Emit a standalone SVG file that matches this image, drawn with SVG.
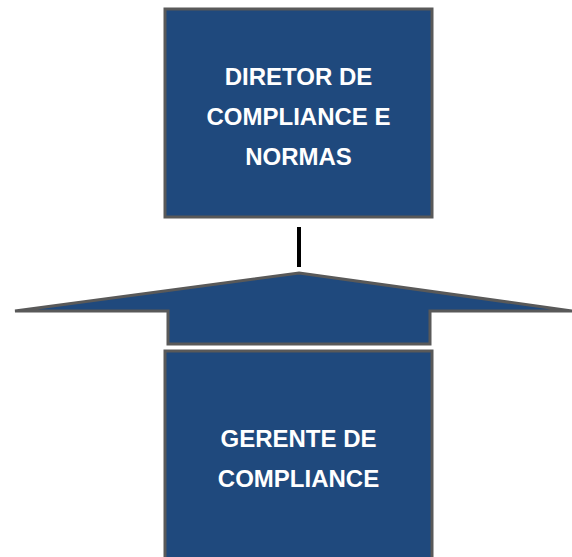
<svg xmlns="http://www.w3.org/2000/svg" width="572" height="557" viewBox="0 0 572 557">
<style>
.box{fill:#1F497D;stroke:#595959;stroke-width:3}
.lbl{font-family:"Liberation Sans",Arial,sans-serif;font-weight:bold;font-size:24px;fill:#FFFFFF;text-anchor:middle}
.conn{stroke:#000000;stroke-width:4;fill:none}
</style>
<rect width="572" height="557" fill="#FFFFFF"/>
<g id="diretor">
<rect class="box" x="165" y="9" width="267" height="208"/>
<text class="lbl" x="298.5" y="85">DIRETOR DE</text>
<text class="lbl" x="298.5" y="125">COMPLIANCE E</text>
<text class="lbl" x="298.5" y="165">NORMAS</text>
</g>
<g id="connectors">
<line class="conn" x1="299" y1="227" x2="299" y2="267"/>
</g>
<g id="arrow">
<polygon class="box" stroke-linejoin="miter" points="299,273 572,311 430,311 430,344 168,344 168,311 15,311"/>
</g>
<g id="gerente">
<rect class="box" x="165" y="351" width="267" height="220"/>
<text class="lbl" x="298.5" y="447">GERENTE DE</text>
<text class="lbl" x="298.5" y="487">COMPLIANCE</text>
</g>
</svg>
